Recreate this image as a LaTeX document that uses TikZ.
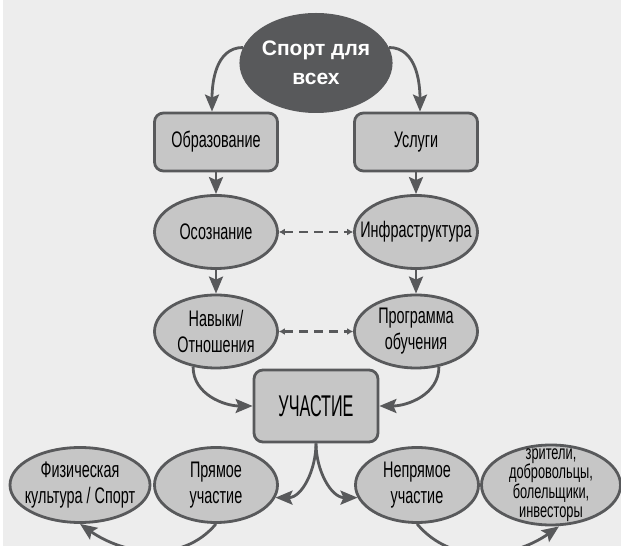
\documentclass[tikz,border=0pt]{standalone}
\usepackage{fontspec}
\setmainfont[FakeStretch=0.64]{Liberation Sans}
\newfontfamily\titlefont{Liberation Sans}
\newfontfamily\bigfont[FakeStretch=0.54]{Liberation Sans}
\usepackage{xcolor}
\usetikzlibrary{arrows.meta,positioning,shapes.geometric}
\definecolor{bgcol}{HTML}{EDEDED}
\definecolor{nodefill}{HTML}{C6C6C6}
\definecolor{edgecol}{HTML}{58595B}

\begin{document}
\begin{tikzpicture}[x=1pt,y=1pt,on grid,
  box/.style={draw=edgecol,fill=nodefill,line width=2.8pt,rounded corners=9pt,minimum width=123pt,minimum height=58pt,align=center,font=\fontsize{22.5}{26}\selectfont},
  oval/.style={ellipse,draw=edgecol,fill=nodefill,line width=2.8pt,minimum width=123pt,minimum height=73pt,inner xsep=-16pt,inner ysep=-10pt,align=center,font=\fontsize{22.5}{26}\selectfont},
  topoval/.style={ellipse,fill=edgecol,text=white,minimum width=152pt,minimum height=100pt,inner sep=0pt,align=center,font=\titlefont\bfseries\fontsize{21}{29}\selectfont},
  arr/.style={-{Stealth[length=17pt,width=14pt,inset=3pt]},draw=edgecol,line width=2.8pt},
  dasharr/.style={{Latex[length=6pt,width=7pt]}-{Latex[length=6pt,width=7pt]},draw=edgecol,line width=2.8pt,dash pattern=on 9pt off 6pt}]
\useasboundingbox (0,0) rectangle (621,546);
\fill[white] (0,0) rectangle (621,546);
\fill[bgcol] (3,0) rectangle (621,546);
\clip (0,0) rectangle (621,546);
\node[topoval] (sport) at (316,483) {Спорт для\\всех};
\node[box,below left=79pt and 100pt of sport] (obr) {Образование};
\node[box,right=200pt of obr] (usl) {Услуги};
\node[oval,below=90pt of obr] (oso) {Осознание};
\node[oval,right=200pt of oso] (infra) {Инфраструктура};
\node[oval,below=99.5pt of oso] (nav) {Навыки/\\Отношения};
\node[oval,right=200pt of nav] (prog) {Программа\\обучения};
\node[box,below right=74.5pt and 100pt of nav,minimum width=124pt,minimum height=72pt,font=\bigfont\fontsize{30}{32}\selectfont] (uch) {УЧАСТИЕ};
\node[oval,below=153.5pt of nav,minimum height=75pt] (pryam) {Прямое\\участие};
\node[oval,left=136pt of pryam,minimum width=140pt,minimum height=75pt] (fiz) {Физическая\\культура / Спорт};
\node[oval,right=201pt of pryam,minimum height=75pt] (nepr) {Непрямое\\участие};
\node[oval,right=134pt of nepr,minimum width=139pt,minimum height=80pt,inner ysep=-20pt,font=\fontsize{20}{19.5}\selectfont] (zrit) {зрители,\\добровольцы,\\болельщики,\\инвесторы};
% arrows
\draw[arr] (sport.168) to[out=180,in=90] ([xshift=-4pt]obr.north);
\draw[arr] (sport.12) to[out=0,in=90] ([xshift=4pt]usl.north);
\draw[arr] (obr) -- (oso);
\draw[arr] (usl) -- (infra);
\draw[arr] (oso) -- (nav);
\draw[arr] (infra) -- (prog);
\draw[dasharr] (oso) -- (infra);
\draw[dasharr] (nav) -- (prog);
\draw[arr] (nav.237) to[out=-90,in=180] (uch.west);
\draw[arr] (prog.303) to[out=-90,in=0] (uch.east);
\draw[arr] (uch.south) to[out=-90,in=0] (pryam.-12);
\draw[arr] (uch.south) to[out=-90,in=180] (nepr.192);
\draw[arr] (pryam.south) to[out=-130,in=-35] (fiz.south);
\draw[arr] (nepr.south) to[out=-50,in=-145] ([xshift=8pt]zrit.south);
\end{tikzpicture}
\end{document}
